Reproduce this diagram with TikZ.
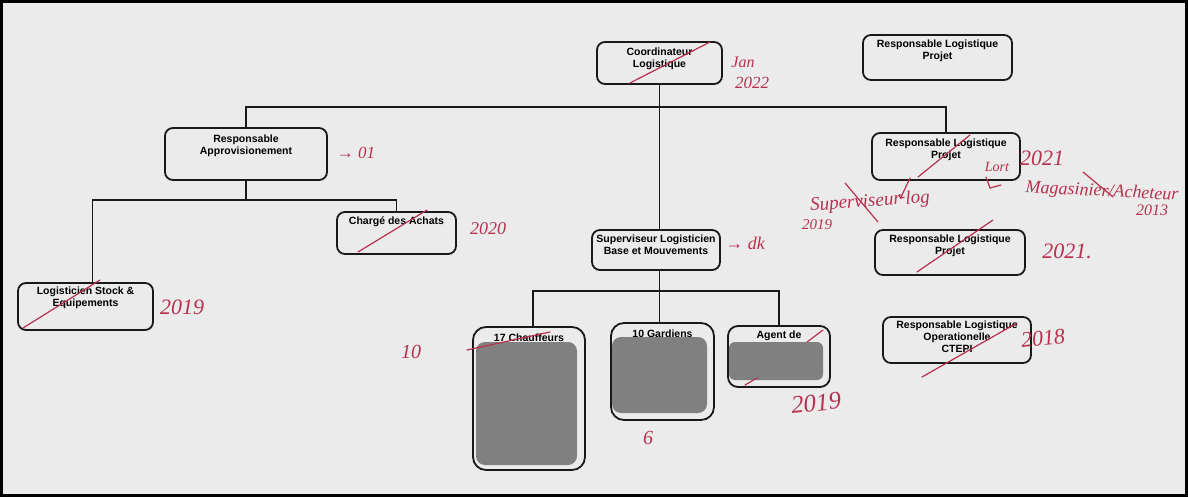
\documentclass[tikz,border=0pt]{standalone}
\usepackage{fontspec}
\setmainfont{Liberation Sans}
\newfontfamily\handfont{Liberation Serif}
\usetikzlibrary{arrows.meta}
\definecolor{paper}{HTML}{EBEBEB}
\definecolor{ink}{HTML}{B8304F}
\definecolor{redact}{HTML}{808080}
\newcommand{\hs}[1]{\handfont\itshape\fontsize{#1}{#1}\selectfont}
\begin{document}
\begin{tikzpicture}[x=1pt,y=-1pt,
  orgbox/.style={draw=black!90,line width=1.8pt,rounded corners=8pt,inner sep=0pt},
  lbl/.style={font=\bfseries\fontsize{10.5}{12}\selectfont,align=center,inner sep=0pt,anchor=north},
  link/.style={draw=black!90,line width=1.4pt},
  hand/.style={text=ink,inner sep=0pt},
  strike/.style={draw=ink,line width=1.2pt,line cap=round},
  blot/.style={fill=redact,rounded corners=9pt}]

% sheet and frame
\useasboundingbox (0,0) rectangle (1188,497);
\fill[paper] (0,0) rectangle (1188,497);
\draw[line width=3pt] (1.5,1.5) rectangle (1186.5,495.5);

% boxes
\node[orgbox,minimum width=125,minimum height=42] (coord) at (659.5,63) {};
\node[orgbox,minimum width=149,minimum height=45] (projtop) at (937.5,57.5) {};
\node[orgbox,minimum width=162,minimum height=52] (appro) at (246,154) {};
\node[orgbox,minimum width=119,minimum height=42] (achat) at (396.5,233) {};
\node[orgbox,minimum width=135,minimum height=47] (logi) at (85.5,306.5) {};
\node[orgbox,minimum width=128,minimum height=40] (super) at (656,250) {};
\node[orgbox,minimum width=112,minimum height=143,rounded corners=13pt] (chauf) at (529,398.5) {};
\node[orgbox,minimum width=103,minimum height=97,rounded corners=13pt] (gard) at (662.5,371.5) {};
\node[orgbox,minimum width=102,minimum height=61,rounded corners=10pt] (agent) at (779,356.5) {};
\node[orgbox,minimum width=148,minimum height=47] (proj2) at (946,156.5) {};
\node[orgbox,minimum width=150,minimum height=45] (proj3) at (950,252.5) {};
\node[orgbox,minimum width=148,minimum height=46] (ctepi) at (957,340) {};

% box texts
\node[lbl] (coordT) at ([yshift=-7pt]coord.north) {Coordinateur\\Logistique};
\node[lbl] (projtopT) at ([yshift=-6pt]projtop.north) {Responsable Logistique\\Projet};
\node[lbl] (approT) at ([yshift=-8pt]appro.north) {Responsable\\Approvisionement};
\node[lbl] (achatT) at ([yshift=-5pt]achat.north) {Chargé des Achats};
\node[lbl] (logiT) at ([yshift=-5pt]logi.north) {Logisticien Stock \&\\Equipements};
\node[lbl] (superT) at ([yshift=-6pt]super.north) {Superviseur Logisticien\\Base et Mouvements};
\node[lbl] (chaufT) at ([yshift=-8pt]chauf.north) {17 Chauffeurs};
\node[lbl] (gardT) at ([yshift=-8pt]gard.north) {10 Gardiens};
\node[lbl] (agentT) at ([yshift=-6pt]agent.north) {Agent de};
\node[lbl] (proj2T) at ([yshift=-7pt]proj2.north) {Responsable Logistique\\Projet};
\node[lbl] (proj3T) at ([yshift=-6pt]proj3.north) {Responsable Logistique\\Projet};
\node[lbl] (ctepiT) at ([yshift=-5pt]ctepi.north) {Responsable Logistique\\Operationelle\\CTEPI};

% grey blocks over the staff lists
\fill[blot] (476,342) rectangle (577,465);
\fill[blot] (612,337) rectangle (707,413);
\fill[blot,rounded corners=6pt] (729,342) rectangle (823,380);

% reporting lines
\coordinate (barR) at (946,107);
\draw[link] (appro.north) |- (barR) -- (proj2.north);
\draw[link] (coord.south) -- (coord.south |- super.north);
\coordinate (splitA) at (246,200);
\draw[link] (appro.south) -- (splitA);
\draw[link] ([xshift=7pt]logi.north) |- (splitA) -| (achat.north);
\coordinate (splitB) at (659.5,291);
\draw[link] (super.south -| splitB) -- (splitB);
\draw[link] ([xshift=4pt]chauf.north) |- (splitB) -| (agent.north);
\draw[link] (splitB) -- (splitB |- gard.north);

% handwritten notes
\node[hand,font=\hs{16}] (n1) at (743,62) {Jan};
\node[hand,font=\hs{17}] (n2) at (752,83) {2022};
\node[hand,font=\hs{17}] (n3) at (356,153) {→ 01};
\node[hand,font=\hs{18}] (n4) at (488,229) {2020};
\node[hand,font=\hs{18}] (n5) at (745,243) {→ dk};
\node[hand,font=\hs{22}] (n6) at (182,307) {2019};
\node[hand,font=\hs{22}] (n7) at (1042,158) {2021};
\node[hand,font=\hs{14}] (n8) at (997,167) {Lort};
\node[hand,font=\hs{19},rotate=4] (n9) at (870,202) {Superviseur log};
\node[hand,font=\hs{15}] (n10) at (817,225) {2019};
\node[hand,font=\hs{18},rotate=-3] (n11) at (1102,192) {Magasinier/Acheteur};
\node[hand,font=\hs{16}] (n12) at (1152,210) {2013};
\node[hand,font=\hs{22}] (n13) at (1067,251) {2021.};
\node[hand,font=\hs{22},rotate=6] (n14) at (1043,338) {2018};
\node[hand,font=\hs{20}] (n15) at (411,352) {10};
\node[hand,font=\hs{20}] (n16) at (648,438) {6};
\node[hand,font=\hs{25},rotate=6] (n17) at (816,403) {2019};

% small pen arrows from the project box
\draw[strike,-{Straight Barb[length=3pt]}] (910,178) .. controls (906,188) .. (900,199);
\draw[strike] (986,177) -- (990,188) -- (1001,185);

% pen strokes crossing out boxes and words
\draw[strike] (630,83) -- (710,42);
\draw[strike] (358,252) -- (427,210);
\draw[strike] (23,328) -- (100,280);
\draw[strike] (918,177) -- (970,135);
\draw[strike] (917,272) -- (993,220);
\draw[strike] (922,377) -- (1017,323);
\draw[strike] (467,350) -- (550,332);
\draw[strike] (807,342) -- (823,330);
\draw[strike] (745,385) -- (757,378);
\draw[strike] (845,183) -- (878,222);
\draw[strike] (1083,172) -- (1113,197);
\end{tikzpicture}
\end{document}
